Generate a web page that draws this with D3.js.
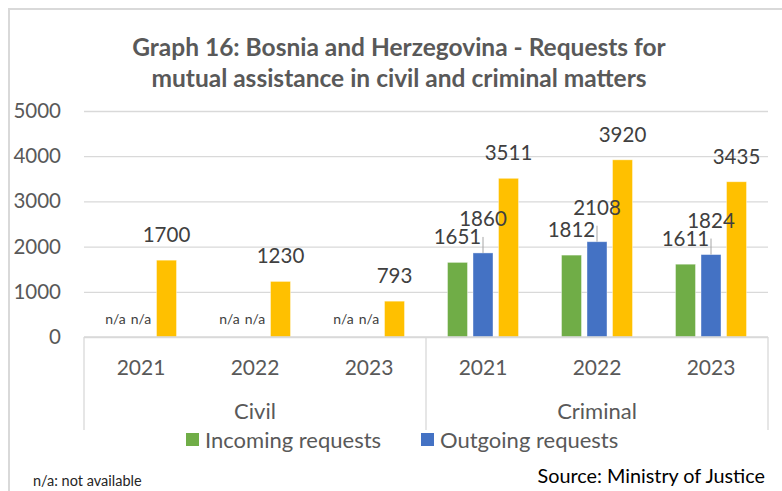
<!DOCTYPE html>
<html>
<head>
<meta charset="utf-8">
<script src="https://cdn.jsdelivr.net/npm/d3@7"></script>
<style>
  body { margin: 0; background: #fff; }
  text { font-family: Lato, "Open Sans", sans-serif; }
</style>
</head>
<body>
<script>
// chart values
let groups = ['Civil', 'Criminal'];
let years = ['2021', '2022', '2023'];
let seriesNames = ['Incoming requests', 'Outgoing requests', 'Total requests'];
let incoming = [null, null, null, 1651, 1812, 1611];
let outgoing = [null, null, null, 1860, 2108, 1824];
let totals = [1700, 1230, 793, 3511, 3920, 3435];
let yTicks = [0, 1000, 2000, 3000, 4000, 5000];
let colors = ['#70ad47', '#4472c4', '#ffc000'];

let svgWidth = 782;
let svgHeight = 491;

let plot = { left: 84, right: 768, top: 111, bottom: 337 };

let svg = d3.select('body')
  .append('svg')
  .attr('width', svgWidth)
  .attr('height', svgHeight);

// frame
svg.append('rect')
  .attr('x', 9).attr('y', 9)
  .attr('width', 790).attr('height', 500)
  .attr('fill', 'none')
  .attr('stroke', '#d9d9d9')
  .attr('stroke-width', 2);

// title
let title = svg.append('text')
  .attr('text-anchor', 'middle')
  .attr('fill', '#595959')
  .style('font-size', '24.5px')
  .style('font-weight', 'bold');
title.append('tspan').attr('x', 399).attr('y', 56)
  .text('Graph 16: Bosnia and Herzegovina - Requests for');
title.append('tspan').attr('x', 399).attr('y', 87)
  .text('mutual assistance in civil and criminal matters');

// rows: one per group/year
let rows = [];
groups.forEach((g, gi) => {
  years.forEach((yr, yi) => {
    let i = gi * years.length + yi;
    rows.push({
      key: g + '-' + yr,
      group: g,
      year: yr,
      values: [incoming[i], outgoing[i], totals[i]]
    });
  });
});

let x0 = d3.scaleBand()
  .domain(rows.map(d => d.key))
  .range([plot.left, plot.right]);

let x1 = d3.scaleBand()
  .domain(seriesNames)
  .range([-35.5, 35.5])
  .paddingInner(0.216);

let y = d3.scaleLinear()
  .domain([0, 5000])
  .range([plot.bottom, plot.top]);

// gridlines + y labels
let yAxis = d3.axisLeft(y)
  .tickValues(yTicks)
  .tickFormat(d3.format('d'))
  .tickSize(-(plot.right - plot.left))
  .tickPadding(23);

let yG = svg.append('g')
  .attr('transform', `translate(${plot.left}, 0)`)
  .call(yAxis);
yG.select('.domain').remove();
yG.selectAll('.tick line')
  .attr('stroke', '#d9d9d9')
  .attr('stroke-width', 1.3);
yG.selectAll('.tick text')
  .attr('fill', '#595959')
  .style('font-size', '20.5px');

// bars
let barG = svg.append('g');
rows.forEach(r => {
  let cx = x0(r.key) + x0.bandwidth() / 2;
  seriesNames.forEach((s, si) => {
    let v = r.values[si];
    let bx = cx + x1(s);
    if (v != null) {
      barG.append('rect')
        .attr('x', bx)
        .attr('y', y(v))
        .attr('width', x1.bandwidth())
        .attr('height', y(0) - y(v))
        .attr('fill', colors[si])
        .attr('stroke', '#ffffff')
        .attr('stroke-opacity', 0.5)
        .attr('stroke-width', 0.8);
    }
  });
});

// value labels
let labelG = svg.append('g');
let lift = 9;
rows.forEach(r => {
  let cx = x0(r.key) + x0.bandwidth() / 2;
  seriesNames.forEach((s, si) => {
    let v = r.values[si];
    let lx = cx + x1(s) + x1.bandwidth() / 2;
    if (v == null) {
      labelG.append('text')
        .attr('x', lx)
        .attr('y', y(0) - 13)
        .attr('text-anchor', 'middle')
        .attr('fill', '#404040')
        .style('font-size', '14px')
        .text('n/a');
      return;
    }
    let ly = y(v) - 18;
    if (si === 1) {
      ly -= lift;
      labelG.append('line')
        .attr('x1', lx).attr('x2', lx)
        .attr('y1', y(v)).attr('y2', y(v) - 16)
        .attr('stroke', '#a6a6a6')
        .attr('stroke-width', 1);
    }
    labelG.append('text')
      .attr('x', lx)
      .attr('y', ly)
      .attr('text-anchor', 'middle')
      .attr('fill', '#404040')
      .style('font-size', '20.5px')
      .text(v);
  });
});

// category axis
let axisG = svg.append('g');
axisG.append('line')
  .attr('x1', plot.left).attr('x2', plot.right)
  .attr('y1', plot.bottom).attr('y2', plot.bottom)
  .attr('stroke', '#d9d9d9').attr('stroke-width', 1.3);

let groupEdges = [plot.left];
groups.forEach(g => {
  let keys = rows.filter(r => r.group === g).map(r => r.key);
  groupEdges.push(x0(keys[keys.length - 1]) + x0.bandwidth());
});
groupEdges.forEach(ex => {
  axisG.append('line')
    .attr('x1', ex).attr('x2', ex)
    .attr('y1', plot.bottom).attr('y2', 430)
    .attr('stroke', '#d9d9d9').attr('stroke-width', 1.3);
});

axisG.selectAll('.year')
  .data(rows)
  .enter()
  .append('text')
  .attr('x', d => x0(d.key) + x0.bandwidth() / 2)
  .attr('y', 375)
  .attr('text-anchor', 'middle')
  .attr('fill', '#595959')
  .style('font-size', '21px')
  .text(d => d.year);

groups.forEach((g, gi) => {
  axisG.append('text')
    .attr('x', (groupEdges[gi] + groupEdges[gi + 1]) / 2)
    .attr('y', 419)
    .attr('text-anchor', 'middle')
    .attr('fill', '#595959')
    .style('font-size', '22px')
    .text(g);
});

// legend (two entries, as in the source)
let legendX = [186, 421];
let legend = svg.append('g');
seriesNames.slice(0, 2).forEach((s, i) => {
  legend.append('rect')
    .attr('x', legendX[i]).attr('y', 433)
    .attr('width', 13).attr('height', 13)
    .attr('fill', colors[i]);
  legend.append('text')
    .attr('x', legendX[i] + 19)
    .attr('y', 448)
    .attr('fill', '#595959')
    .style('font-size', '22px')
    .text(s);
});

// notes
svg.append('text')
  .attr('x', 33).attr('y', 486)
  .attr('fill', '#262626')
  .style('font-size', '14.5px')
  .text('n/a: not available');

svg.append('text')
  .attr('x', 765).attr('y', 483)
  .attr('text-anchor', 'end')
  .attr('fill', '#000000')
  .style('font-size', '19.8px')
  .text('Source: Ministry of Justice');
</script>
</body>
</html>
